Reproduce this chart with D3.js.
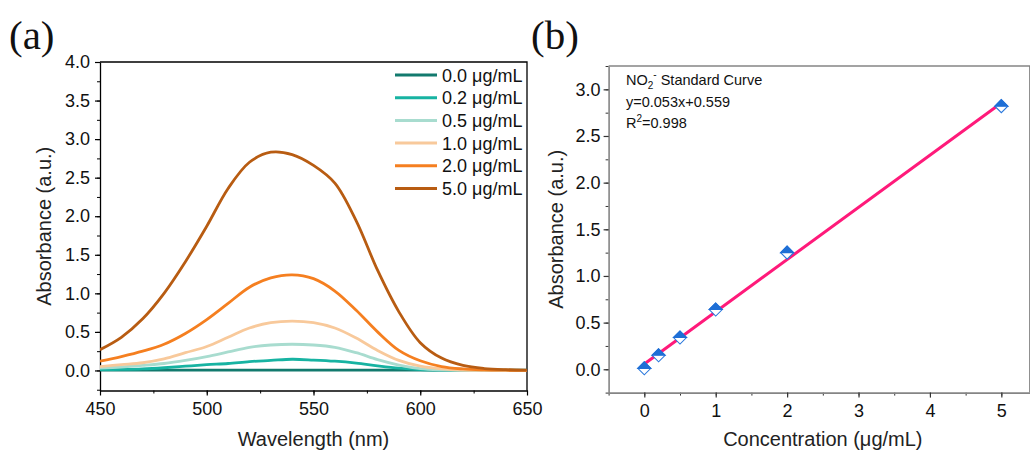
<!DOCTYPE html>
<html>
<head>
<meta charset="utf-8">
<script src="https://cdn.jsdelivr.net/npm/d3@7"></script>
<style>
  html, body { margin: 0; padding: 0; background: #fff; }
  svg { display: block; font-family: "Liberation Sans", Arial, sans-serif; }
</style>
</head>
<body>
<svg id="fig" width="1030" height="455"></svg>
<script>
// ---- Panel (a): UV-vis absorption spectra ----
const wavelengths = [450, 460, 470, 480, 490, 500, 510, 520, 530, 540, 550,
                     560, 570, 580, 590, 600, 610, 620, 630, 640, 650];
const abs00 = [0.005, 0.005, 0.005, 0.005, 0.005, 0.005, 0.005, 0.005, 0.005, 0.005, 0.005,
               0.005, 0.004, 0.004, 0.004, 0.003, 0.003, 0.003, 0.003, 0.003, 0.003];
const abs02 = [0.010, 0.013, 0.020, 0.035, 0.055, 0.075, 0.090, 0.115, 0.130, 0.145, 0.135,
               0.120, 0.095, 0.060, 0.030, 0.012, 0.004, 0.001, 0.000, 0.000, 0.000];
const abs05 = [0.030, 0.045, 0.065, 0.090, 0.130, 0.180, 0.240, 0.300, 0.330, 0.340, 0.330,
               0.300, 0.230, 0.140, 0.070, 0.025, 0.008, 0.002, 0.000, 0.000, 0.000];
const abs10 = [0.050, 0.075, 0.100, 0.150, 0.230, 0.310, 0.430, 0.550, 0.620, 0.640, 0.620,
               0.550, 0.420, 0.260, 0.130, 0.055, 0.020, 0.005, 0.001, 0.000, 0.000];
const abs20 = [0.120, 0.180, 0.250, 0.340, 0.480, 0.660, 0.870, 1.080, 1.200, 1.240, 1.190,
               1.030, 0.780, 0.500, 0.260, 0.125, 0.050, 0.020, 0.008, 0.003, 0.000];
const abs50 = [0.270, 0.430, 0.670, 1.000, 1.410, 1.870, 2.360, 2.700, 2.830, 2.800, 2.660,
               2.430, 1.940, 1.300, 0.760, 0.360, 0.160, 0.065, 0.025, 0.010, 0.005];
const spectraLabels = ["0.0 μg/mL", "0.2 μg/mL", "0.5 μg/mL", "1.0 μg/mL", "2.0 μg/mL", "5.0 μg/mL"];
const spectraColors = ["#127a6e", "#17b3a2", "#a8dccf", "#f8c99b", "#f57f20", "#b85c12"];
const spectraTicksX = [450, 500, 550, 600, 650];
const spectraTicksY = [0, 0.5, 1, 1.5, 2, 2.5, 3, 3.5, 4];

// ---- Panel (b): nitrite standard curve ----
const concentrations = [0, 0.2, 0.5, 1, 2, 5];
const peakAbsorbance = [0.01, 0.15, 0.34, 0.64, 1.25, 2.82];
const curveTicksX = [0, 1, 2, 3, 4, 5];
const curveTicksY = [0, 0.5, 1, 1.5, 2, 2.5, 3];
const fitEquation = "y=0.053x+0.559";
const fitR2 = "0.998";

const svg = d3.select("#fig");
const FONT = '"Liberation Sans", Arial, sans-serif';

function minorTicks(lo, hi, step) {
  const out = [];
  for (let v = lo; v <= hi + 1e-9; v += step) out.push(+v.toFixed(4));
  return out;
}

// ================= Panel (a) =================
const xA = d3.scaleLinear().domain([450, 650]).range([100, 527]);
const yA = d3.scaleLinear().domain([-0.26, 4]).range([390.5, 62]);
const gA = svg.append("g");

// minor ticks
gA.append("g").attr("transform", `translate(0,${yA.range()[0]})`)
  .call(d3.axisBottom(xA).tickValues(minorTicks(450, 650, 25)).tickSize(3).tickFormat(""))
  .call(g => g.select(".domain").remove())
  .call(g => g.selectAll("line").attr("stroke", "#000").attr("stroke-width", 1));
gA.append("g").attr("transform", `translate(${xA.range()[0]},0)`)
  .call(d3.axisLeft(yA).tickValues(minorTicks(-0.25, 3.75, 0.25)).tickSize(3).tickFormat(""))
  .call(g => g.select(".domain").remove())
  .call(g => g.selectAll("line").attr("stroke", "#000").attr("stroke-width", 1));

// major axes
const axAx = gA.append("g").attr("transform", `translate(0,${yA.range()[0]})`)
  .call(d3.axisBottom(xA).tickValues(spectraTicksX).tickSize(5).tickSizeOuter(0).tickPadding(7).tickFormat(d3.format("d")));
const axAy = gA.append("g").attr("transform", `translate(${xA.range()[0]},0)`)
  .call(d3.axisLeft(yA).tickValues(spectraTicksY).tickSize(5).tickSizeOuter(0).tickPadding(5).tickFormat(d3.format(".1f")));
[axAx, axAy].forEach(a => {
  a.selectAll("text").attr("font-family", FONT).attr("font-size", 18).attr("fill", "#111");
  a.selectAll("line").attr("stroke", "#000").attr("stroke-width", 1.2);
  a.select(".domain").attr("stroke", "#000").attr("stroke-width", 1.3);
});
// frame top / right
gA.append("path")
  .attr("d", `M${xA.range()[0]},${yA.range()[1]}H${xA.range()[1]}V${yA.range()[0]}`)
  .attr("fill", "none").attr("stroke", "#000").attr("stroke-width", 1.3);

// spectra
const spectra = [abs00, abs02, abs05, abs10, abs20, abs50];
const lineA = d3.line().x(d => xA(d[0])).y(d => yA(d[1])).curve(d3.curveCatmullRom.alpha(0.5));
svg.append("clipPath").attr("id", "clipA").append("rect")
  .attr("x", xA.range()[0]).attr("y", yA.range()[1])
  .attr("width", xA.range()[1] - xA.range()[0]).attr("height", yA.range()[0] - yA.range()[1]);
gA.append("g").attr("clip-path", "url(#clipA)")
  .selectAll("path").data(spectra).join("path")
  .attr("d", s => lineA(wavelengths.map((w, i) => [w, s[i]])))
  .attr("fill", "none")
  .attr("stroke", (s, i) => spectraColors[i])
  .attr("stroke-width", 2.8)
  .attr("stroke-linejoin", "round");

// legend
const legA = gA.append("g");
spectraLabels.forEach((lab, i) => {
  const cy = 75 + i * 22.7;
  legA.append("line").attr("x1", 395).attr("x2", 437).attr("y1", cy).attr("y2", cy)
    .attr("stroke", spectraColors[i]).attr("stroke-width", 3);
  legA.append("text").attr("x", 442).attr("y", cy + 6.5)
    .attr("font-family", FONT).attr("font-size", 18).attr("fill", "#111").text(lab);
});

// axis titles
gA.append("text").attr("x", (xA.range()[0] + xA.range()[1]) / 2).attr("y", 446)
  .attr("text-anchor", "middle").attr("font-family", FONT).attr("font-size", 20).attr("fill", "#222")
  .text("Wavelength (nm)");
gA.append("text").attr("transform", `translate(51,${(yA.range()[0] + yA.range()[1]) / 2}) rotate(-90)`)
  .attr("text-anchor", "middle").attr("font-family", FONT).attr("font-size", 20).attr("fill", "#222")
  .text("Absorbance (a.u.)");
svg.append("text").attr("x", 9).attr("y", 49)
  .attr("font-family", '"Liberation Serif", "Times New Roman", serif').attr("font-size", 41).attr("fill", "#111")
  .text("(a)");

// ================= Panel (b) =================
const xB = d3.scaleLinear().domain([-0.5, 5.4]).range([608.6, 1029.9]);
const yB = d3.scaleLinear().domain([-0.25, 3.25]).range([392.6, 66]);
const gB = svg.append("g");

gB.append("g").attr("transform", `translate(0,${yB.range()[0]})`)
  .call(d3.axisBottom(xB).tickValues(minorTicks(-0.5, 5, 0.5)).tickSize(3).tickFormat(""))
  .call(g => g.select(".domain").remove())
  .call(g => g.selectAll("line").attr("stroke", "#333").attr("stroke-width", 1));
gB.append("g").attr("transform", `translate(${xB.range()[0]},0)`)
  .call(d3.axisLeft(yB).tickValues(minorTicks(-0.25, 3.25, 0.25)).tickSize(3).tickFormat(""))
  .call(g => g.select(".domain").remove())
  .call(g => g.selectAll("line").attr("stroke", "#333").attr("stroke-width", 1));

const axBx = gB.append("g").attr("transform", `translate(0,${yB.range()[0]})`)
  .call(d3.axisBottom(xB).tickValues(curveTicksX).tickSize(5).tickSizeOuter(0).tickPadding(7).tickFormat(d3.format("d")));
const axBy = gB.append("g").attr("transform", `translate(${xB.range()[0]},0)`)
  .call(d3.axisLeft(yB).tickValues(curveTicksY).tickSize(5).tickSizeOuter(0).tickPadding(3).tickFormat(d3.format(".1f")));
[axBx, axBy].forEach(a => {
  a.selectAll("text").attr("font-family", FONT).attr("font-size", 18).attr("fill", "#111");
  a.selectAll("line").attr("stroke", "#333").attr("stroke-width", 1.2);
  a.select(".domain").attr("stroke", "#858585").attr("stroke-width", 1.6);
});
gB.append("path")
  .attr("d", `M${xB.range()[0]},${yB.range()[1]}H${xB.range()[1]}V${yB.range()[0]}`)
  .attr("fill", "none").attr("stroke", "#858585").attr("stroke-width", 1.6);

// least-squares line through the standards
const mx = d3.mean(concentrations), my = d3.mean(peakAbsorbance);
const sxy = d3.sum(concentrations, (c, i) => (c - mx) * (peakAbsorbance[i] - my));
const sxx = d3.sum(concentrations, c => (c - mx) ** 2);
const slope = sxy / sxx, intercept = my - slope * mx;
const xFit = d3.extent(concentrations);
gB.append("line")
  .attr("x1", xB(xFit[0])).attr("y1", yB(intercept + slope * xFit[0]))
  .attr("x2", xB(xFit[1])).attr("y2", yB(intercept + slope * xFit[1]))
  .attr("stroke", "#ff1a7a").attr("stroke-width", 3).attr("stroke-linecap", "round");

// half-filled diamond markers
const r = 6.5;
const pts = gB.selectAll("g.pt").data(concentrations).join("g").attr("class", "pt")
  .attr("transform", (c, i) => `translate(${xB(c)},${yB(peakAbsorbance[i])})`);
pts.append("path").attr("d", `M0,${-r}L${r},0L0,${r}L${-r},0Z`)
  .attr("fill", "#fff").attr("stroke", "#2a78dc").attr("stroke-width", 1.1);
pts.append("path").attr("d", `M0,${-r}L${r},0L${-r},0Z`)
  .attr("fill", "#1f6fd6").attr("stroke", "#1f6fd6").attr("stroke-width", 1.1);

// annotation
const ann = gB.append("g").attr("font-family", FONT).attr("font-size", 14.5).attr("fill", "#111");
const t1 = ann.append("text").attr("x", 626).attr("y", 85);
t1.append("tspan").text("NO");
t1.append("tspan").attr("font-size", 10).attr("dy", 4).text("2");
t1.append("tspan").attr("font-size", 10).attr("dy", -11).text("-");
t1.append("tspan").attr("dy", 7).text(" Standard Curve");
ann.append("text").attr("x", 626).attr("y", 107).text(fitEquation);
const t3 = ann.append("text").attr("x", 626).attr("y", 128);
t3.append("tspan").text("R");
t3.append("tspan").attr("font-size", 10).attr("dy", -6).text("2");
t3.append("tspan").attr("dy", 6).text("=" + fitR2);

gB.append("text").attr("x", (xB(0) + xB(5)) / 2).attr("y", 446)
  .attr("text-anchor", "middle").attr("font-family", FONT).attr("font-size", 20).attr("fill", "#222")
  .text("Concentration (μg/mL)");
gB.append("text").attr("transform", `translate(563,${(yB.range()[0] + yB.range()[1]) / 2}) rotate(-90)`)
  .attr("text-anchor", "middle").attr("font-family", FONT).attr("font-size", 20).attr("fill", "#222")
  .text("Absorbance (a.u.)");
svg.append("text").attr("x", 531).attr("y", 49)
  .attr("font-family", '"Liberation Serif", "Times New Roman", serif').attr("font-size", 41).attr("fill", "#111")
  .text("(b)");
</script>
</body>
</html>
